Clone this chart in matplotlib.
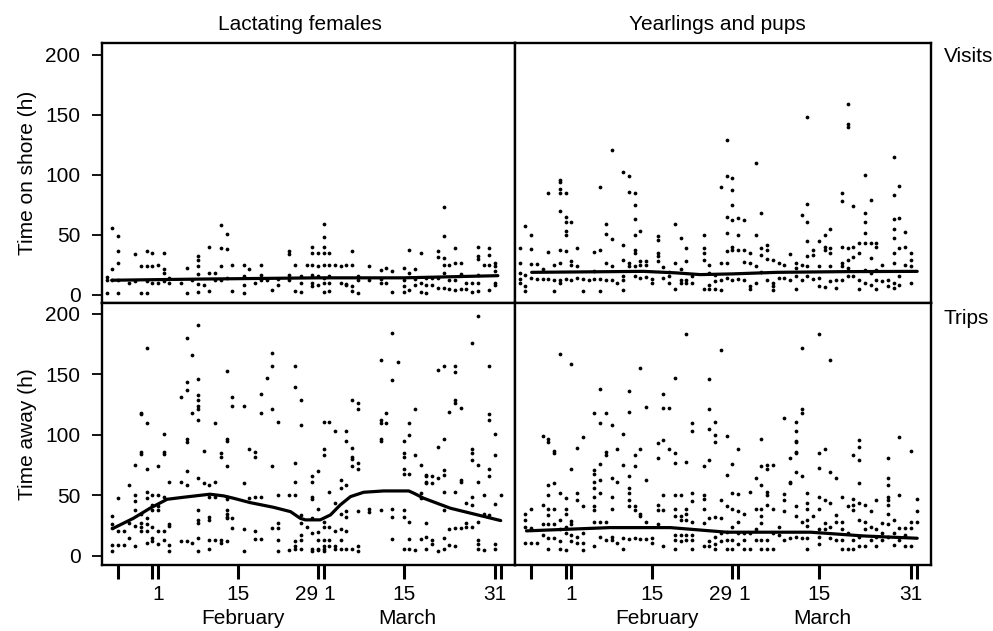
import matplotlib
matplotlib.use("Agg")
import matplotlib.pyplot as plt
from matplotlib.transforms import blended_transform_factory

plt.rcParams['font.family'] = ['Liberation Sans', 'DejaVu Sans']

# ---------------- data (day of year, hours) ----------------
# Lactating females - visits (time on shore)
lf_visits = [
    (23, [1, 15, 12]), (24, [55.5, 21.4, 12]), (25, [1, 48.6, 36, 26, 12]),
    (27, [10]), (28, [34, 11]), (29, [23.6, 1]), (30, [36.7, 23.6, 11, 1]),
    (31, [34.7, 23.6, 9.7]), (32, [25, 9.7]), (33, [34.7, 21.4, 18, 11]),
    (34, [14, 9.7]), (36, [9.7]), (37, [22, 1]), (38, [12.5]),
    (39, [32, 29, 23.6, 17.5, 9.2, 2]), (40, [8.3]), (41, [40, 18, 2.8]),
    (42, [18, 12.5]), (43, [58, 39, 23.6, 12.5]), (44, [51, 38, 14]),
    (45, [25, 2.8]), (47, [25, 15.3, 7.8, 1.4]), (48, [21.4]), (49, [9.7]),
    (50, [24.4, 16.7, 12.5]), (51, [12.5]), (52, [4.2]), (53, [13, 8.3]),
    (55, [36, 34, 16.7, 12.5]), (56, [24.4, 2.8]), (57, [15.3, 9.7, 2]),
    (58, [25]), (59, [40, 34.7, 25, 16.7, 9.7, 7.5]), (60, [35, 23.6, 15.3, 8.3]),
    (61, [59, 48, 40, 34.7, 25, 14, 9.7, 2]), (62, [34.7, 24.4, 15.3, 9.7, 2.8]),
    (63, [24.4]), (64, [23.6, 9.7]), (65, [25, 9.2, 8.3]), (66, [36, 25, 7.5, 2.8]),
    (67, [15.8, 12.5, 1.4]), (69, [23.6, 12.5]), (71, [20.3, 13, 9.7]),
    (72, [22, 9.7]), (73, [19.4, 2]), (75, [22, 12.5, 7, 2]), (76, [37.5, 18, 4.2]),
    (77, [21.4, 13, 8.3]), (78, [35, 9.7, 2]), (79, [14, 8.3, 1.4]), (80, [14, 8.3]),
    (81, [36, 31.4, 14, 5.5]), (82, [73, 49, 30.5, 25, 18, 5.5]),
    (83, [25, 12.5, 4.7]), (84, [39, 26.4, 12.5, 4.2]), (85, [26.4, 17.5, 4.7]),
    (86, [9.7, 4.7]), (87, [9.7, 2]), (88, [40, 32, 29.7, 16.7, 9.7, 2.8]),
    (89, [25]), (90, [38.6, 33, 25, 4.2]), (91, [26.4, 23.6, 19.4, 9.7, 8.3]),
]

# Yearlings and pups - visits
yp_visits = [
    (23, [39, 26.4, 18, 13, 9.7]), (24, [57, 16.7, 7.5, 2.8]), (25, [50, 38, 25.6, 14]),
    (26, [25.6, 13]), (27, [21.4, 13]), (28, [85, 35.5, 13]), (29, [25, 12.5, 2.8]),
    (30, [96, 94, 88, 85, 70, 37.5, 26.4, 12.5, 9.7]),
    (31, [85, 64.7, 61, 52.8, 50, 36, 13]), (32, [61, 27.8, 25, 12.5]),
    (33, [39, 23.6, 14]), (34, [13, 2.8]), (35, [12.5]), (36, [35.5, 19.4, 13]),
    (37, [90, 37, 13, 2.8]), (38, [59, 51, 26.4, 12.5]), (39, [121, 46.4, 23.6, 12.5]),
    (40, [9.7]), (41, [102, 41.7, 29, 15.8, 12.5, 3.6]), (42, [98.6, 85.6, 26.4, 23.6]),
    (43, [84.7, 75, 63, 50, 37.5, 35, 24, 15.3]), (44, [52.8, 27.8, 25, 14]),
    (45, [27.8, 25, 14.7]), (46, [13, 9.7]), (47, [48.6, 45.8, 34.7, 32, 27.8]),
    (48, [22.8, 14]), (49, [18.6, 15.3, 9.7]), (50, [59, 26.4, 4.7]),
    (51, [47, 21.4, 12.5, 9.7]), (52, [39, 27.8, 12.5, 9.7]), (53, [15.3, 9.7]),
    (55, [50, 39, 34.7, 29, 4.7]), (56, [25, 18, 8.3, 4.7]), (57, [16.7, 11, 4.7]),
    (58, [90, 26.4, 12.5, 4.2]), (59, [129, 98.6, 64.7, 51.4, 36, 26.4, 14]),
    (60, [97.5, 87.5, 75, 62.5, 40, 37.5, 12.5]), (61, [64, 50, 37.5, 13]),
    (62, [62.5, 37, 27, 12.5]), (63, [34.7, 26.4, 7, 4.7]), (64, [110, 50, 23.6, 9.7]),
    (65, [68, 39, 33, 18.6]), (66, [41.7, 37.5, 29.7, 12.5]), (67, [29, 9.7, 7.5, 4.2]),
    (68, [26.4, 14]), (69, [25, 14]), (70, [34, 12.5]), (71, [26.4, 22, 15.3, 4.7]),
    (72, [66.7, 25, 12.5]), (73, [148, 76, 61, 45, 32, 23.6, 15.3]),
    (74, [37.5, 33, 13]), (75, [45, 23.6, 14, 7.5]), (76, [50, 40, 37.5, 6.4]),
    (77, [54.7, 39, 34.7, 23.6, 11]), (78, [12.5, 5.5]),
    (79, [84.7, 78, 40, 26.4, 23.6, 12.5]), (80, [159, 142, 140, 39, 29, 22, 15.3]),
    (81, [73.6, 40, 31, 15.3]), (82, [43, 34.7, 12, 4.7]),
    (83, [100, 68, 61, 51.4, 43, 20.8, 9.7]), (84, [79, 43, 30.5, 18, 8.3]),
    (85, [43, 40, 20.8, 12.5, 4.7]), (86, [25, 11]), (87, [12, 7]),
    (88, [115, 83, 63, 54.7, 47, 34.7, 26.4, 9.7, 5.5]), (89, [91, 64, 39, 15.3, 8.3]),
    (90, [52, 40, 25]), (91, [35, 29, 23.6, 9.7]),
]

# Lactating females - trips (time away)
lf_trips = [
    (24, [33, 26, 23, 9, 4]), (25, [48, 21, 9]), (26, [21, 9]), (27, [59, 27, 15]),
    (28, [75, 50, 45, 38, 25, 8]), (29, [118, 117, 86, 84, 35, 27, 24, 21]),
    (30, [172, 110, 72, 53, 48, 31, 26, 21, 11]), (31, [50, 42, 38, 24, 15, 12]),
    (32, [74, 50, 41, 38, 21, 10]), (33, [101, 86, 84, 49, 21, 13]),
    (34, [61, 26, 25, 9, 4]), (36, [131, 61, 12]),
    (37, [180, 144, 137, 97, 94, 70, 59, 12]), (38, [166, 118, 11]),
    (39, [191, 146, 133, 129, 124, 121, 112, 64, 38, 30, 27, 15, 4]),
    (40, [87, 60]), (41, [59, 49, 32, 30, 13, 6]), (42, [110, 61, 49, 13]),
    (43, [85, 82, 13, 11]), (44, [153, 97, 95, 74, 49, 47, 38, 35, 32, 31, 12]),
    (45, [131, 124, 31, 23]), (47, [124, 60, 22, 4]), (48, [88, 48]),
    (49, [86, 82, 49, 21, 14]), (50, [134, 118, 49, 14]), (51, [147]),
    (52, [168, 157, 121, 74, 23]), (53, [111, 50, 27, 23, 13, 4]), (55, [50, 5]),
    (56, [157, 140, 77, 61, 50, 12, 8, 6]), (57, [129, 108, 34, 27, 17, 13, 6]),
    (58, [24]), (59, [66, 61, 49, 47, 31, 19, 6, 4]), (60, [70, 39, 20, 13, 6, 5]),
    (61, [111, 88, 83, 28, 24, 13, 8, 6, 4]), (62, [111, 53, 24, 13, 8]),
    (63, [103, 44, 21, 8, 6]), (64, [63, 56, 35, 22, 13, 6]),
    (65, [103, 95, 59, 37, 32, 21, 6]), (66, [129, 89, 82, 80, 74, 6]),
    (67, [126, 121, 77, 72, 37, 8, 4]), (69, [39, 36]),
    (71, [162, 112, 110, 97, 95, 38]), (72, [118, 110]), (73, [184, 145, 39, 32, 14]),
    (74, [160]), (75, [95, 85, 82, 72, 68, 38, 32, 6]), (76, [110, 100, 68, 28, 14, 6]),
    (77, [121, 83, 5]), (78, [75, 52, 48, 14]), (79, [67, 66, 61, 60, 27, 16, 6]),
    (80, [66, 60, 13, 10]), (81, [154, 90, 64, 4]), (82, [157, 97, 71, 67, 53, 38, 15, 6]),
    (83, [119, 22, 9]), (84, [157, 152, 129, 126, 53, 23, 8]), (85, [122, 63, 61, 23]),
    (86, [44, 27, 24]), (87, [176, 88, 85, 79, 49, 42, 24]),
    (88, [198, 75, 61, 28, 13, 10, 6]), (89, [50, 35, 5]),
    (90, [157, 117, 112, 72, 66, 34]), (91, [101, 83, 43, 10, 6]), (92, [50]),
]

# Yearlings and pups - trips
yp_trips = [
    (24, [35, 30, 24, 11]), (25, [39, 23, 11]), (26, [11]), (27, [99, 42, 26, 17]),
    (28, [97, 94, 59, 50, 39, 34, 26, 15, 6]), (29, [87, 85, 60, 39, 26, 15]),
    (30, [167, 52, 30, 22, 12, 6]), (31, [48, 39, 35, 24, 19, 5]),
    (32, [159, 72, 29, 26, 17, 12]), (33, [89, 52, 46, 16, 11]), (34, [98, 41, 19, 11, 5]),
    (36, [118, 71, 68, 61, 56, 49, 41, 38, 28, 8]), (37, [138, 110, 76, 63, 52, 28, 16]),
    (38, [118, 86, 83, 28, 13]), (39, [108, 64, 49, 39, 16, 13]), (40, [88, 61, 11]),
    (41, [101, 75, 15, 6]), (42, [136, 119, 66, 56, 52, 46, 41, 14]),
    (43, [83, 74, 41, 38, 15]), (44, [155, 88, 35, 33, 14]), (45, [123, 63, 28, 14]),
    (46, [15, 11]), (47, [93, 81, 42, 38, 26]), (48, [134, 122, 96, 50, 38, 8]),
    (49, [122, 88]), (50, [147, 85, 77, 50, 39, 33, 17, 13, 6]),
    (51, [50, 33, 30, 17, 12]), (52, [183, 78, 39, 35, 30, 17, 13]),
    (53, [110, 103, 52, 45, 28, 17, 13, 6]), (55, [74, 50, 47, 39, 27, 8]),
    (56, [146, 121, 105, 79, 31, 12, 8]), (57, [111, 100, 94, 32, 16, 10, 6]),
    (58, [170, 46, 31, 19, 12]), (59, [99, 67, 41, 20, 13, 6]),
    (60, [76, 52, 39, 24, 13, 6]), (61, [88, 51, 37, 28, 19, 10]),
    (62, [35, 19, 13, 6]), (63, [53, 19, 6]), (64, [64, 39, 22, 13]),
    (65, [97, 74, 59, 39, 33, 27, 13, 6]), (66, [75, 72, 53, 50, 42, 13, 6]),
    (67, [75, 39, 19, 6]), (68, [24, 17]), (69, [114, 51, 46, 37, 13]),
    (70, [81, 61, 60, 15]), (71, [111, 103, 95, 94, 86, 85, 69, 41, 33, 16]),
    (72, [172, 121, 118, 66, 28, 15]), (73, [52, 44, 39, 30, 25, 15, 6]), (74, [33]),
    (75, [183, 85, 73, 49, 39, 22, 16, 10]), (76, [88, 46, 27, 22]),
    (77, [162, 69, 44, 24, 15]), (78, [64, 34, 28, 13]), (79, [49, 28, 22, 13, 6]),
    (80, [41, 19, 6]), (81, [83, 47, 42, 38, 13, 6]),
    (82, [96, 90, 79, 60, 44, 30, 16, 8]), (83, [42, 28, 22, 8]), (84, [37, 24, 13]),
    (85, [46, 22, 16, 8]), (86, [27, 19, 13]),
    (87, [81, 64, 59, 49, 46, 42, 35, 26, 16]), (88, [30, 19, 9]),
    (89, [98, 50, 23, 13]), (90, [23, 17, 8]), (91, [87, 28, 23, 8]), (92, [47, 37, 28]),
]

# Smoothed trend lines
lf_vis_curve_day = [23.9, 40, 60, 75, 91.5]
lf_vis_curve_h = [12, 13, 14, 14, 15.8]
yp_vis_curve_day = [25.1, 35, 44.5, 50, 54.4, 60, 67.8, 80, 92.1]
yp_vis_curve_h = [18.6, 19.0, 19.4, 18.2, 16.7, 17.3, 18.6, 19.2, 19.4]
lf_trip_curve_day = [24.2, 27.7, 30.6, 33.6, 36.5, 41.1, 43.5, 45.2, 48.1, 52.2,
                     55.2, 56.9, 57.8, 60.4, 62.2, 63.9, 65.7, 68.0, 71.5, 75.9,
                     76.8, 78.5, 83.2, 92.0]
lf_trip_curve_h = [22.9, 31.1, 39.4, 46.8, 48.5, 51, 49.6, 47.7, 44.1, 40.2,
                   36.6, 31.1, 29.8, 29.8, 33.9, 42.1, 49, 52.6, 53.7, 53.7,
                   51.8, 47.7, 39.4, 29.2]
yp_trip_curve_day = [24.2, 38.7, 49.2, 59.0, 73.6, 82.8, 92.1]
yp_trip_curve_h = [20.7, 23.4, 23.4, 19.6, 19.6, 16.5, 14.6]

# Axis ticks (day of year; 2000 leap year)
tick_days = [25, 31, 32, 46, 60, 61, 75, 91, 92]
tick_labels = ['', '', '1', '15', '29', '1', '15', '31', '']
month_names = ['February', 'March']
month_centers = [46.8, 75.6]
y_ticks = [0, 50, 100, 150, 200]

col_titles = ['Lactating females', 'Yearlings and pups']
row_titles = ['Visits', 'Trips']
ylabels = ['Time on shore (h)', 'Time away (h)']


def flat(pairs):
    xs = [d for d, vs in pairs for _ in vs]
    ys = [v for _, vs in pairs for v in vs]
    return xs, ys


fig = plt.figure(figsize=(9.93, 6.31), dpi=100)
W, H = 993, 631
col_x = [(102, 515), (515, 931)]
row_y = [(43, 303), (303, 565)]
title_x = [0.479, 0.486]

panels = [[(lf_visits, lf_vis_curve_day, lf_vis_curve_h),
           (yp_visits, yp_vis_curve_day, yp_vis_curve_h)],
          [(lf_trips, lf_trip_curve_day, lf_trip_curve_h),
           (yp_trips, yp_trip_curve_day, yp_trip_curve_h)]]
ylims = [(-7, 210), (-7.5, 209)]

for r in range(2):
    for c in range(2):
        x0, x1 = col_x[c]
        yt, yb = row_y[r]
        ax = fig.add_axes([x0 / W, 1 - yb / H, (x1 - x0) / W, (yb - yt) / H])
        pts, cd, ch = panels[r][c]
        xs, ys = flat(pts)
        ax.plot(xs, ys, 'o', ms=2.7, color='black', mew=0)
        ax.plot(cd, ch, '-', color='black', lw=2.3, solid_capstyle='round',
                solid_joinstyle='round')
        ax.set_xlim(22.2, 94.5)
        ax.set_ylim(*ylims[r])
        for s in ax.spines.values():
            s.set_linewidth(1.7)
            s.set_color('black')
        ax.tick_params(top=False, right=False)
        if c == 0:
            ax.set_yticks(y_ticks)
            ax.tick_params(axis='y', direction='out', length=7, width=1.3,
                           pad=8.5, labelsize=15)
            ax.set_ylabel(ylabels[r], fontsize=15, labelpad=6)
        else:
            ax.set_yticks([])
        if r == 1:
            ax.set_xticks(tick_days)
            ax.set_xticklabels(tick_labels)
            ax.tick_params(axis='x', direction='out', length=10, width=2.2,
                           pad=4.5, labelsize=15)
            labs = ax.get_xticklabels()
            labs[4].set_ha('right')
            labs[5].set_ha('left')
            tr = blended_transform_factory(ax.transData, ax.transAxes)
            for mname, mc in zip(month_names, month_centers):
                ax.text(mc, -0.205, mname, transform=tr, ha='center',
                        va='center', fontsize=15)
        else:
            ax.set_xticks([])
        if r == 0:
            ax.set_title(col_titles[c], fontsize=15, pad=9, x=title_x[c])
        if c == 1:
            ax.text(1.03, 0.95 if r == 0 else 0.94, row_titles[r],
                    transform=ax.transAxes, ha='left', va='center', fontsize=15)

fig.savefig('out.png', dpi=100)
